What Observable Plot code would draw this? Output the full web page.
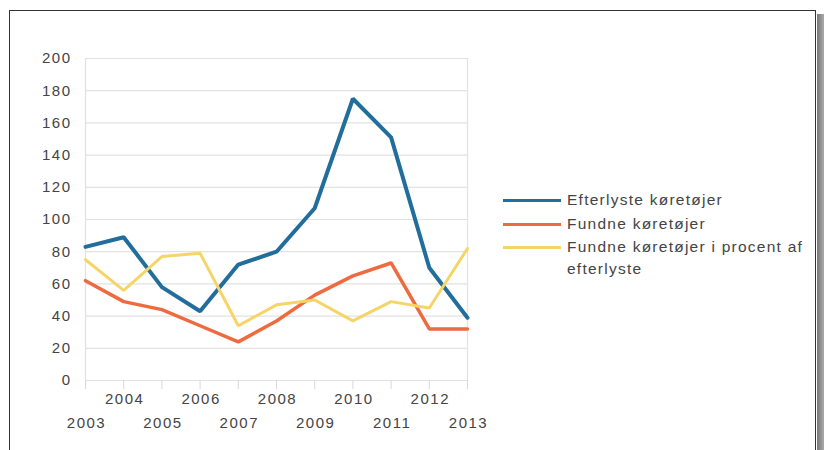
<!DOCTYPE html>
<html><head><meta charset="utf-8">
<script src="https://cdn.jsdelivr.net/npm/d3@7"></script>
<script src="https://cdn.jsdelivr.net/npm/@observablehq/plot@0.6"></script>
<style>
html,body{margin:0;padding:0;background:#fff;width:824px;height:450px;overflow:hidden;font-family:"Liberation Sans",Arial,sans-serif;}
#wrap{position:relative;width:824px;height:450px;}
#frame{position:absolute;left:9px;top:10px;width:807px;height:460px;border:1.5px solid #333;box-sizing:border-box;}
#shadow{position:absolute;left:817px;top:14px;width:7px;height:440px;background:linear-gradient(to right,#777,#aaa);}
#chart{position:absolute;left:0;top:0;}
#legend{position:absolute;left:503px;top:189px;font-size:15.5px;color:#444;letter-spacing:1.25px;}
.item{display:flex;align-items:flex-start;height:23.5px;}
.sw{width:58px;height:3px;margin-top:10px;margin-right:6px;flex:none;}
</style></head>
<body><div id="wrap"><div id="frame"></div><div id="shadow"></div><div id="chart"></div><div id="legend"></div></div>
<script>
const years = [2003,2004,2005,2006,2007,2008,2009,2010,2011,2012,2013];
const efterlyste = [83,89,58,43,72,80,107,175,151,70,39];
const fundne = [62,49,44,34,24,37,53,65,73,32,32];
const procent = [75,56,77,79,34,47,50,37,49,45,82];
const seriesNames = ["Efterlyste køretøjer","Fundne køretøjer","Fundne køretøjer i procent af efterlyste"];
const colors = ["#216e9c","#ee6a3f","#f6d568"];
const widths = [4,3.5,3];
const yTicks = [0,20,40,60,80,100,120,140,160,180,200];

const rows = [];
[efterlyste,fundne,procent].forEach((arr,i)=>arr.forEach((v,j)=>rows.push({year:years[j],value:v,series:seriesNames[i]})));

const even = years.filter(y=>y%2===0), odd = years.filter(y=>y%2===1);
const plot = Plot.plot({
  width:824, height:450,
  marginLeft:85, marginRight:357, marginTop:58, marginBottom:70,
  x:{domain:[2003,2013], axis:null, label:null},
  y:{domain:[0,200], axis:null, label:null},
  style:{fontFamily:"Liberation Sans, Arial, sans-serif", background:"transparent", letterSpacing:"1.5px"},
  marks:[
    Plot.ruleY(yTicks,{stroke:"#e2e2e2",strokeWidth:1.2}),
    Plot.ruleX([2003,2013],{stroke:"#e2e2e2",strokeWidth:1.2}),
    Plot.axisX({ticks:years, tickSize:9, tickFormat:()=>"", stroke:"#d8d8d8", label:null}),
    Plot.axisX({ticks:even, tickSize:0, tickPadding:13, tickFormat:d=>String(d), fontSize:15, fill:"#444", stroke:"none", label:null, dx:1}),
    Plot.axisX({ticks:odd, tickSize:0, tickPadding:37, tickFormat:d=>String(d), fontSize:15, fill:"#444", stroke:"none", label:null, dx:1}),
    Plot.axisY({ticks:yTicks, tickSize:0, tickPadding:14, fontSize:15, fill:"#444", label:null}),
    ...seriesNames.map((s,i)=>Plot.line(rows.filter(r=>r.series===s),{x:"year",y:"value",stroke:colors[i],strokeWidth:widths[i],strokeLinejoin:"miter"}))
  ]
});
document.getElementById("chart").appendChild(plot);

const leg = document.getElementById("legend");
const labels = ["Efterlyste køretøjer","Fundne køretøjer","Fundne køretøjer i procent af<br>efterlyste"];
labels.forEach((t,i)=>{
  const d=document.createElement("div"); d.className="item";
  d.innerHTML=`<div class="sw" style="background:${colors[i]}"></div><div style="line-height:22px">${t}</div>`;
  leg.appendChild(d);
});
</script></body></html>
